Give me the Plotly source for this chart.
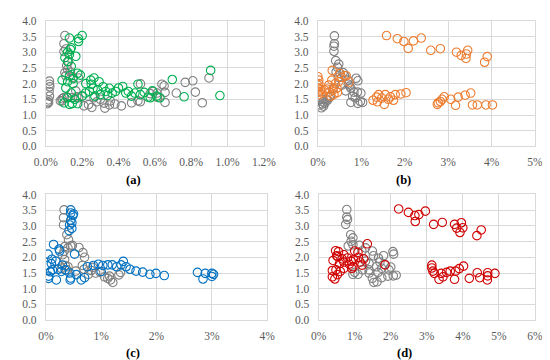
import plotly.graph_objects as go

# ---------------- data (x values in %) ----------------
a_green_x = [0.20, 0.18, 0.18, 0.13, 0.14, 0.135, 0.12, 0.13, 0.165, 0.105, 0.12, 0.14, 0.175, 0.19,
             0.09, 0.12, 0.15, 0.11, 0.14, 0.13, 0.145, 0.175, 0.10, 0.12, 0.16, 0.15, 0.13,
             0.265, 0.293, 0.247, 0.250, 0.218, 0.240, 0.260, 0.270, 0.285, 0.300, 0.315, 0.330, 0.350, 0.365, 0.384, 0.400, 0.423, 0.440,
             0.454, 0.472, 0.490, 0.507, 0.520, 0.542, 0.563, 0.586, 0.575, 0.610, 0.628, 0.696, 0.761, 0.907, 0.958, 0.200, 0.220, 0.340]
a_green_y = [3.53, 3.43, 3.34, 3.45, 3.14, 3.09, 3.00, 2.93, 2.87, 2.83, 2.70, 2.55, 2.33, 2.27,
             2.11, 2.06, 2.16, 1.86, 1.70, 1.34, 1.36, 1.36, 1.39, 1.55, 1.50, 2.00, 2.25,
             2.18, 2.06, 2.11, 1.98, 1.70, 1.75, 1.85, 1.60, 1.80, 1.65, 1.90, 1.75, 1.85, 1.70, 1.75, 1.86, 1.91, 1.70,
             1.75, 1.60, 1.70, 1.98, 1.65, 1.72, 1.57, 1.77, 1.55, 1.60, 1.55, 2.13, 1.58, 2.42, 1.62, 1.60, 2.00, 1.62]

a_grey_x = [0.020, 0.020, 0.022, 0.018, 0.020, 0.015, 0.012, 0.010, 0.015,
            0.105, 0.100, 0.110, 0.100, 0.125, 0.115, 0.105, 0.135, 0.110, 0.180, 0.150, 0.120,
            0.090, 0.080, 0.100, 0.115, 0.145, 0.165, 0.170, 0.180, 0.210, 0.235, 0.253,
            0.280, 0.320, 0.325, 0.350, 0.355, 0.380, 0.416, 0.090, 0.200, 0.265, 0.300,
            0.472, 0.507, 0.521, 0.520, 0.574, 0.591, 0.612, 0.614, 0.639,
            0.651, 0.656, 0.656, 0.718, 0.767, 0.809, 0.823, 0.861, 0.898]
a_grey_y = [2.08, 1.98, 1.90, 1.75, 1.60, 1.48, 1.42, 1.36, 1.40,
            3.53, 3.27, 3.10, 3.02, 2.70, 2.57, 2.35, 2.37, 2.25, 2.18, 2.20, 2.45,
            1.52, 1.45, 1.56, 1.58, 1.55, 1.77, 1.58, 1.55, 1.29, 1.33, 1.24,
            1.42, 1.38, 1.22, 1.32, 1.45, 1.35, 1.29, 1.45, 1.60, 1.55, 1.50,
            1.39, 1.45, 1.99, 1.42, 1.68, 1.75, 1.70, 1.56, 1.98,
            1.93, 1.72, 1.40, 1.70, 2.04, 2.09, 1.73, 1.39, 2.18]

b_orange_x = [1.58, 1.83, 1.98, 2.08, 2.20, 2.38, 2.60, 2.82, 3.19, 3.30, 3.45, 3.42, 3.41, 3.84, 3.90,
              1.27, 1.35, 1.40, 1.37, 1.47, 1.53, 1.55, 1.62, 1.67, 1.74, 1.78, 1.91, 2.03,
              2.75, 2.77, 2.82, 2.86, 2.91, 3.06, 3.17, 3.23, 3.39, 3.52, 3.56, 3.67, 3.87, 4.02,
              0.00, 0.02, 0.02, 0.00, 0.03, 0.02, 0.06, 0.15, 0.20, 0.26, 0.32, 0.33, 0.40, 0.44, 0.48, 0.51, 0.37, 0.30, 0.55, 0.65,
              0.72, 0.25, 0.10, 0.00, 0.35, 0.45]
b_orange_y = [3.53, 3.43, 3.34, 3.12, 3.36, 3.45, 3.06, 3.11, 3.00, 2.90, 3.06, 2.94, 2.80, 2.68, 2.86,
              1.47, 1.57, 1.65, 1.42, 1.54, 1.34, 1.65, 1.50, 1.58, 1.47, 1.65, 1.67, 1.71,
              1.34, 1.39, 1.43, 1.50, 1.58, 1.50, 1.31, 1.57, 1.63, 1.70, 1.32, 1.32, 1.32, 1.32,
              2.22, 2.11, 2.00, 1.86, 1.73, 1.65, 1.80, 1.80, 1.83, 1.73, 2.11, 2.42, 2.00, 1.86, 2.06, 2.32, 1.66, 1.60, 2.20, 2.25,
              2.05, 1.95, 1.70, 1.95, 1.80, 1.72]

b_grey_x = [0.38, 0.38, 0.37, 0.37, 0.41, 0.48, 0.45, 0.42, 0.51, 0.61, 0.69, 0.70, 0.64,
            0.73, 0.76, 0.88, 0.92, 0.83, 0.91, 0.99, 0.76, 0.92, 0.98, 1.03, 0.80,
            0.08, 0.11, 0.08, 0.19, 0.26, 0.29, 0.12, 0.04, 0.16, 0.13, 0.22, 0.35,
            0.55, 0.58, 0.86, 0.47]
b_grey_y = [3.52, 3.27, 3.19, 3.03, 2.73, 2.62, 2.52, 2.37, 2.32, 2.26, 2.11, 1.98, 1.77,
            1.92, 1.85, 2.17, 2.09, 1.73, 1.73, 1.70, 1.40, 1.37, 1.43, 1.40, 1.60,
            1.50, 1.35, 1.23, 1.50, 1.55, 1.60, 1.42, 1.32, 1.38, 1.28, 1.47, 1.85,
            1.95, 2.35, 1.55, 2.20]

c_blue_x = [0.45, 0.45, 0.49, 0.45, 0.47, 0.43, 0.47, 0.50, 0.42,
            0.14, 0.04, 0.11, 0.02, 0.08, 0.05, 0.05, 0.19, 0.24, 0.18, 0.22, 0.43, 0.45, 0.44, 0.52, 0.64, 0.30, 0.12,
            0.86, 0.95, 1.03, 1.12, 1.20, 1.28, 1.40, 1.36, 1.45, 1.52, 1.63, 1.75, 1.88, 1.99, 2.14, 0.75,
            2.74, 2.84, 2.88, 3.00, 3.03, 3.00,
            0.25, 0.28, 0.35, 0.55, 0.70, 1.00, 0.10]
c_blue_y = [3.51, 3.41, 3.33, 3.18, 3.10, 3.03, 2.92, 3.38, 2.85,
            2.41, 2.10, 1.94, 1.74, 1.54, 1.40, 1.33, 1.28, 2.26, 1.88, 1.62, 1.50, 1.34, 1.28, 2.10, 1.28, 1.75, 1.60,
            1.74, 1.78, 1.74, 1.76, 1.76, 1.70, 1.87, 1.76, 1.70, 1.62, 1.56, 1.53, 1.46, 1.49, 1.42, 1.70,
            1.52, 1.31, 1.49, 1.49, 1.46, 1.39,
            2.20, 1.55, 1.60, 1.45, 1.35, 1.55, 1.80]

c_grey_x = [0.33, 0.32, 0.32, 0.38, 0.41, 0.34, 0.40, 0.45, 0.48, 0.60, 0.67, 0.70,
            0.33, 0.30, 0.34, 0.35, 0.40, 0.28, 0.38, 0.66, 0.69, 0.77, 0.82, 0.90,
            0.98, 1.06, 1.12, 1.17, 1.21, 1.32, 1.35, 1.15, 0.54, 0.85]
c_grey_y = [3.51, 3.26, 3.03, 2.72, 2.56, 2.34, 2.30, 2.36, 2.38, 2.31, 2.15, 2.00,
            2.19, 2.08, 1.93, 1.74, 1.70, 1.65, 1.60, 1.74, 1.62, 1.46, 1.58, 1.50,
            1.53, 1.38, 1.33, 1.28, 1.20, 1.44, 1.52, 1.40, 1.56, 1.68]

d_red_x = [2.22, 2.49, 2.67, 2.78, 2.68, 2.96, 3.19, 3.43, 3.77, 3.96, 3.83, 4.00, 3.92, 4.39, 4.51,
           3.14, 3.14, 3.17, 3.21, 3.34, 3.40, 3.45, 3.55, 3.65, 3.77, 3.80, 3.90, 4.02, 4.18, 4.40, 4.47, 4.69, 4.69, 4.68, 4.89,
           0.47, 0.55, 0.50, 0.53, 0.70, 0.40, 0.58, 0.70, 0.80, 0.85, 0.90, 0.97, 1.09, 1.10, 1.15, 1.35, 1.25, 0.92, 0.70, 0.60, 0.48, 0.38, 0.38, 0.45, 0.52, 0.95,
           1.84, 1.20, 0.65, 1.00]
d_red_y = [3.54, 3.43, 3.33, 3.36, 3.14, 3.47, 3.05, 3.11, 3.05, 3.10, 2.93, 2.94, 2.79, 2.69, 2.87,
           1.75, 1.66, 1.56, 1.49, 1.30, 1.49, 1.38, 1.52, 1.56, 1.30, 1.56, 1.64, 1.72, 1.33, 1.51, 1.35, 1.51, 1.41, 1.28, 1.49,
           2.21, 2.18, 2.05, 2.02, 2.08, 1.90, 1.80, 1.85, 1.98, 1.78, 1.88, 1.92, 2.16, 2.00, 1.85, 2.43, 1.95, 1.65, 1.65, 1.55, 1.60, 1.58, 1.38, 1.31, 1.45, 1.70,
           1.76, 1.75, 1.95, 2.20]

d_grey_x = [0.78, 0.78, 0.80, 0.75, 0.89, 0.95, 0.90, 0.82, 0.95, 1.13, 1.30, 1.20, 1.49,
            1.52, 1.66, 1.80, 2.06, 1.70, 1.84, 2.00, 1.40, 1.30, 1.60, 1.95, 2.08, 1.75,
            1.00, 1.09, 0.95, 1.22, 1.40, 1.49, 1.53, 1.62, 1.75, 1.92, 2.07, 2.15, 1.65, 1.40]
d_grey_y = [3.52, 3.28, 3.20, 3.05, 2.72, 2.62, 2.51, 2.36, 2.40, 2.38, 2.30, 2.20, 2.20,
            2.05, 1.97, 2.05, 2.18, 1.85, 1.77, 1.69, 1.80, 1.88, 1.70, 1.60, 2.10, 1.65,
            1.52, 1.46, 1.46, 1.60, 1.50, 1.33, 1.20, 1.22, 1.35, 1.40, 1.41, 1.43, 1.52, 1.60]

panel_labels = ["(a)", "(b)", "(c)", "(d)"]
x_ranges = [1.2, 5, 4, 6]
x_dticks = [0.2, 1, 1, 1]
x_formats = [".1f", "d", "d", "d"]

# ---------------- styling ----------------
GREY = "#808080"
COLORS = ["#00B050", "#ED7D31", "#0070C0", "#D00000"]
FONT = "Times New Roman, Liberation Serif, Tinos, serif"
GRID = "#D9D9D9"

series = [
    (a_grey_x, a_grey_y, a_green_x, a_green_y),
    (b_grey_x, b_grey_y, b_orange_x, b_orange_y),
    (c_grey_x, c_grey_y, c_blue_x, c_blue_y),
    (d_grey_x, d_grey_y, d_red_x, d_red_y),
]

fig = go.Figure()
for i, (gx, gy, cx, cy) in enumerate(series):
    xa = "x" if i == 0 else f"x{i+1}"
    ya = "y" if i == 0 else f"y{i+1}"
    for xs, ys, col in ((gx, gy, GREY), (cx, cy, COLORS[i])):
        fig.add_trace(go.Scatter(
            x=xs, y=ys, mode="markers", xaxis=xa, yaxis=ya,
            marker=dict(symbol="circle-open", size=8.5, color=col, line=dict(width=1.1, color=col)),
            hoverinfo="skip", showlegend=False))

W, H = 550, 360
x_dom_px = [(27, 255), (311.5, 538.5), (27, 258.5), (312.3, 538.4)]
y_dom_px = [(7, 137), (7, 137), (186.7, 316.7), (186.7, 316.7)]

layout = dict(width=W, height=H, margin=dict(l=0, r=0, t=0, b=0),
              paper_bgcolor="white", plot_bgcolor="white", showlegend=False)
tickfont = dict(family=FONT, size=11.5, color="#595959")
for i in range(4):
    xk = "xaxis" if i == 0 else f"xaxis{i+1}"
    yk = "yaxis" if i == 0 else f"yaxis{i+1}"
    xa = "x" if i == 0 else f"x{i+1}"
    ya = "y" if i == 0 else f"y{i+1}"
    x0, x1 = x_dom_px[i]
    t0, t1 = y_dom_px[i]
    layout[xk] = dict(domain=[x0 / W, x1 / W], anchor=ya, range=[0, x_ranges[i]], dtick=x_dticks[i],
                      tick0=0, tickformat=x_formats[i], ticksuffix="%", showgrid=True, gridcolor=GRID,
                      gridwidth=1, zeroline=False, showline=True, linecolor=GRID, linewidth=1,
                      mirror=True, ticks="", tickfont=tickfont, ticklabelstandoff=5, fixedrange=True)
    layout[yk] = dict(domain=[1 - t1 / H, 1 - t0 / H], anchor=xa, range=[0, 4], dtick=0.5, tick0=0,
                      tickformat=".1f", showgrid=True, gridcolor=GRID, gridwidth=1, zeroline=False,
                      showline=True, linecolor=GRID, linewidth=1, mirror=True, ticks="",
                      tickfont=tickfont, ticklabelstandoff=6, fixedrange=True)

label_pos = [(119, 172), (401, 172), (118, 351), (402, 351)]
annotations = []
for lab, (px, py) in zip(panel_labels, label_pos):
    annotations.append(dict(text=f"<b>{lab}</b>", x=px / W, y=1 - py / H, xref="paper", yref="paper",
                            showarrow=False, xanchor="center", yanchor="middle",
                            font=dict(family=FONT, size=12.5, color="black")))
layout["annotations"] = annotations
fig.update_layout(**layout)

fig.write_html("out.html")
